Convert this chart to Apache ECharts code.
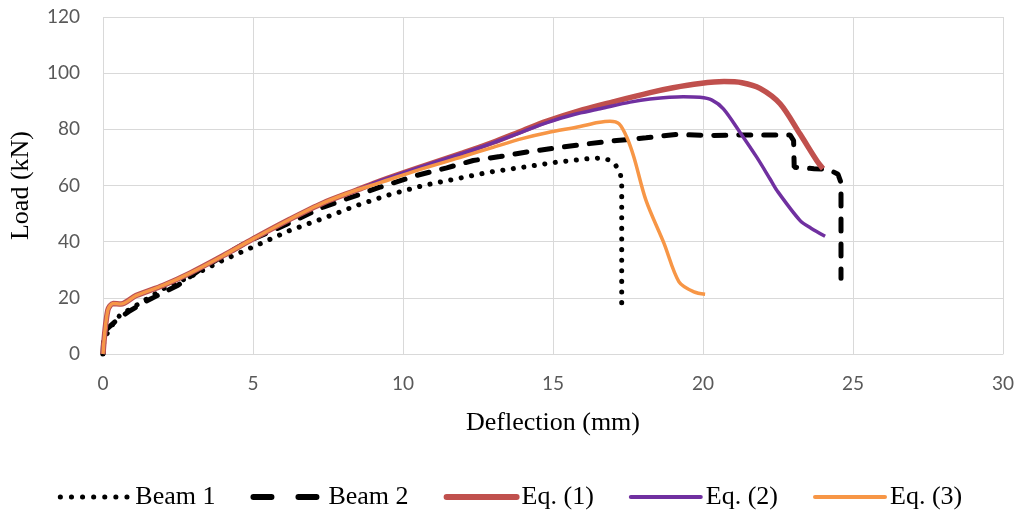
<!DOCTYPE html>
<html>
<head>
    <meta charset="utf-8">
    <title>Load - Deflection</title>
    <script src="https://cdn.jsdelivr.net/npm/echarts@6/dist/echarts.min.js"></script>
</head>
<body style="margin:0;">
    <div id="main" style="width: 1020px;height:511px;"></div>
    <script type="text/javascript">
        // [deflection mm, load kN]
        var beam1 = [[0,0],[0.03,5],[0.23,9.2],[0.57,13.9],[1.23,18.1],[2.12,23.9],[2.9,27.5],[4.0,33.4],
            [5.12,38.7],[6.23,44],[7.34,48.3],[8.46,52.9],[9.57,56.8],[10.68,60],[11.79,62.4],[12.9,64.8],
            [14.0,66.5],[15.12,68.3],[16.12,69.5],[16.6,69.8],[16.9,69],[17.1,67],[17.25,64],[17.29,60],[17.29,17.4]];
        var beam2 = [[0,0],[0.03,7.9],[0.4,11.5],[0.84,15],[1.4,18.6],[2.5,24.5],[3.3,30.5],[4.9,40.5],
            [5.79,44.6],[7.34,52.3],[9.23,59.4],[10.46,63.6],[11.46,66.3],[12.34,68.9],[13.23,70.3],[14.23,72.1],
            [15.12,73.4],[16.12,74.8],[17.12,76],[18.1,77],[19.1,78.2],[20.1,77.8],[21.2,78],[22.3,78],[22.9,78],
            [23.02,76],[23.04,66.5],[23.7,66],[24.2,65.7],[24.5,64],[24.6,61],[24.6,27]];
        var eq1 = [[0,0],[0.16,15.6],[0.34,18],[0.6,17.8],[1.1,20.8],[2.0,24.4],[2.9,28.8],[4.0,35],
            [5.0,41],[6.23,48],[7.34,53.8],[8.46,58.4],[9.23,61.6],[10.5,66.3],[12.0,71.6],[13.0,75.4],
            [14.0,79.6],[14.8,82.9],[16.0,87],[17.0,89.8],[18.2,93],[19.0,94.8],[19.9,96.3],[20.7,97],
            [21.3,96.6],[21.9,94.6],[22.57,89.1],[23.23,78.4],[23.79,68.9],[24.0,66]];
        var eq2 = [[0,0],[0.16,15.6],[0.34,18],[0.6,17.8],[1.1,20.8],[2.0,24.4],[2.9,28.8],[4.0,35],
            [5.0,41],[6.23,48],[7.34,53.8],[8.46,58.4],[9.23,61.6],[10.5,66.3],[12.0,71.5],[13.0,75.2],
            [14.0,79.2],[14.8,82.4],[15.7,85.3],[16.57,87.3],[17.57,89.7],[18.23,90.8],[19.34,91.6],
            [19.9,91.4],[20.3,90.4],[20.68,87.3],[21.23,79],[21.79,70.1],[22.23,62.4],[22.46,58.3],
            [23.23,47.6],[23.6,44.8],[24.07,41.9]];
        var eq3 = [[0,0],[0.16,15.6],[0.34,18],[0.6,17.8],[1.1,20.8],[2.0,24.4],[2.9,28.8],[4.0,35],
            [5.0,41],[6.23,48],[7.34,53.8],[8.46,58.4],[9.23,61],[10.5,65.5],[12.0,70.3],[13.0,73.6],
            [14.0,76.8],[14.8,78.8],[15.9,81],[16.5,82.4],[16.9,82.9],[17.2,82],[17.46,77.2],[17.7,70],
            [18.1,54.7],[18.7,39.4],[19.2,25.7],[19.7,22.1],[20.07,21.3]];
        var names = ['Beam 1', 'Beam 2', 'Eq. (1)', 'Eq. (2)', 'Eq. (3)'];

        var myChart = echarts.init(document.getElementById('main'));
        var gridColor = '#D9D9D9';
        var serif = 'Liberation Serif';

        var option = {
            animation: false,
            backgroundColor: '#fff',
            grid: { left: 103, right: 17, top: 17, bottom: 157 },
            legend: {
                left: 'center',
                top: 479,
                itemWidth: 70,
                itemHeight: 14,
                itemGap: 35,
                itemStyle: { opacity: 0 },
                textStyle: { fontFamily: serif, fontSize: 26, color: '#000' },
                data: [
                    { name: names[0], lineStyle: { width: 5, type: [0.1, 11], cap: 'round', color: '#000' } },
                    { name: names[1], lineStyle: { width: 6, type: [18, 27], cap: 'round', color: '#000' } },
                    { name: names[2], lineStyle: { width: 6, type: 'solid', cap: 'round', color: '#C0504D' } },
                    { name: names[3], lineStyle: { width: 4, type: 'solid', cap: 'round', color: '#7030A0' } },
                    { name: names[4], lineStyle: { width: 4, type: 'solid', cap: 'round', color: '#F79646' } }
                ]
            },
            xAxis: {
                type: 'value',
                min: 0, max: 30, interval: 5,
                name: 'Deflection (mm)',
                nameLocation: 'middle',
                nameGap: 56,
                nameTextStyle: { fontFamily: serif, fontSize: 26, color: '#000' },
                axisLine: { show: true, lineStyle: { color: gridColor, width: 1 } },
                axisTick: { show: false },
                axisLabel: { fontFamily: 'Lato', fontSize: 19, color: '#595959', margin: 20 },
                splitLine: { show: true, lineStyle: { color: gridColor, width: 1 } }
            },
            yAxis: {
                type: 'value',
                min: 0, max: 120, interval: 20,
                name: 'Load (kN)',
                nameLocation: 'middle',
                nameGap: 69,
                nameTextStyle: { fontFamily: serif, fontSize: 26, color: '#000' },
                axisLine: { show: false },
                axisTick: { show: false },
                axisLabel: { fontFamily: 'Lato', fontSize: 19, color: '#595959', margin: 23 },
                splitLine: { show: true, lineStyle: { color: gridColor, width: 1 } }
            },
            series: [
                {
                    name: names[0], type: 'line', data: beam1, symbol: 'none',
                    lineStyle: { color: '#000', width: 5, type: [0.1, 10.5], cap: 'round' }
                },
                {
                    name: names[1], type: 'line', data: beam2, symbol: 'none',
                    lineStyle: { color: '#000', width: 5, type: [12, 13], cap: 'round' }
                },
                {
                    name: names[2], type: 'line', data: eq1, symbol: 'none', smooth: 0.3,
                    lineStyle: { color: '#C0504D', width: 5.5 }
                },
                {
                    name: names[3], type: 'line', data: eq2, symbol: 'none', smooth: 0.3,
                    lineStyle: { color: '#7030A0', width: 3.5 }
                },
                {
                    name: names[4], type: 'line', data: eq3, symbol: 'none', smooth: 0.3,
                    lineStyle: { color: '#F79646', width: 3.5 }
                }
            ]
        };

        myChart.setOption(option);
    </script>
</body>
</html>
